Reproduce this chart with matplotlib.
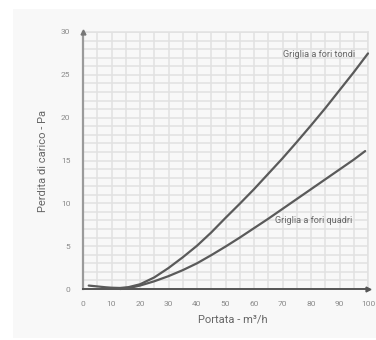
import matplotlib
matplotlib.use("Agg")
import matplotlib.pyplot as plt
from matplotlib.patches import Rectangle
import numpy as np

# Pressure drop curves for the two grille types
portata_tondi = [2, 5, 8, 10, 13, 16, 20, 25, 30, 35, 40, 45, 50, 55, 60, 65, 70, 75, 80, 85, 90, 95, 100]
perdita_tondi = [0.4, 0.3, 0.2, 0.15, 0.12, 0.22, 0.55, 1.35, 2.45, 3.7, 5.05, 6.6, 8.3, 9.95, 11.65,
                 13.45, 15.25, 17.15, 19.1, 21.1, 23.2, 25.3, 27.5]

portata_quadri = [13, 16, 20, 25, 30, 35, 40, 45, 50, 55, 60, 65, 70, 75, 80, 85, 90, 95, 99]
perdita_quadri = [0.0, 0.1, 0.4, 0.9, 1.5, 2.2, 3.0, 3.95, 4.95, 6.0, 7.1, 8.2, 9.35, 10.5, 11.65,
                  12.8, 13.95, 15.1, 16.1]

x_ticks = [0, 10, 20, 30, 40, 50, 60, 70, 80, 90, 100]
y_ticks = [0, 5, 10, 15, 20, 25, 30]

label_tondi = "Griglia a fori tondi"
label_quadri = "Griglia a fori quadri"
x_label = "Portata - m³/h"
y_label = "Perdita di carico - Pa"

plt.rcParams["font.family"] = ["Roboto", "DejaVu Sans"]

fig = plt.figure(figsize=(3.76, 3.40), dpi=100)
fig.patch.set_facecolor("white")
fig.add_artist(Rectangle((13 / 376, 2 / 340), 363 / 376, 329 / 340,
                         transform=fig.transFigure, facecolor="#f8f8f8",
                         edgecolor="none", zorder=0))

ax = fig.add_axes([83 / 376, 51 / 340, 285 / 376, 257 / 340])
ax.set_facecolor("#f8f8f8")
ax.set_xlim(0, 100)
ax.set_ylim(0, 30)

ax.set_xticks(np.arange(0, 101, 5), minor=True)
ax.set_yticks(np.arange(0, 31, 1), minor=True)
ax.set_xticks(x_ticks)
ax.set_yticks(y_ticks)
ax.set_xticklabels([str(v) for v in x_ticks])
ax.set_yticklabels([str(v) for v in y_ticks])
ax.grid(True, which="both", color="#e1e1e1", linewidth=1.1, zorder=1)
ax.set_axisbelow(True)
ax.tick_params(which="both", length=0, labelsize=6, labelcolor="#8a8a8a", pad=9)

for side in ("top", "right"):
    ax.spines[side].set_color("#e1e1e1")
    ax.spines[side].set_linewidth(1.1)
ax.spines["left"].set_color("#9a9a9a")
ax.spines["left"].set_linewidth(1.6)
ax.spines["bottom"].set_color("#555555")
ax.spines["bottom"].set_linewidth(1.4)

# arrow heads at the ends of the axes
ax.plot(0, 30, marker="^", color="#777777", markersize=3.5, clip_on=False, zorder=5)
ax.plot(100, 0, marker=">", color="#555555", markersize=3.5, clip_on=False, zorder=5)

ax.plot(portata_tondi, perdita_tondi, color="#5a5a5a", linewidth=1.6,
        solid_capstyle="round", solid_joinstyle="round", zorder=4, clip_on=False)
ax.plot(portata_quadri, perdita_quadri, color="#5a5a5a", linewidth=1.6,
        solid_capstyle="round", solid_joinstyle="round", zorder=4, clip_on=False)

ax.text(70.2, 27.4, label_tondi, fontsize=6.6, color="#666666", va="center", ha="left")
ax.text(67.4, 8.05, label_quadri, fontsize=6.6, color="#666666", va="center", ha="left")

ax.set_xlabel(x_label, fontsize=8, color="#666666", va="center")
ax.set_ylabel(y_label, fontsize=8, color="#666666", va="center")
ax.xaxis.set_label_coords(0.526, -0.12)
ax.yaxis.set_label_coords(-0.142, 0.5)

fig.savefig("out.png", dpi=100, facecolor="white")
